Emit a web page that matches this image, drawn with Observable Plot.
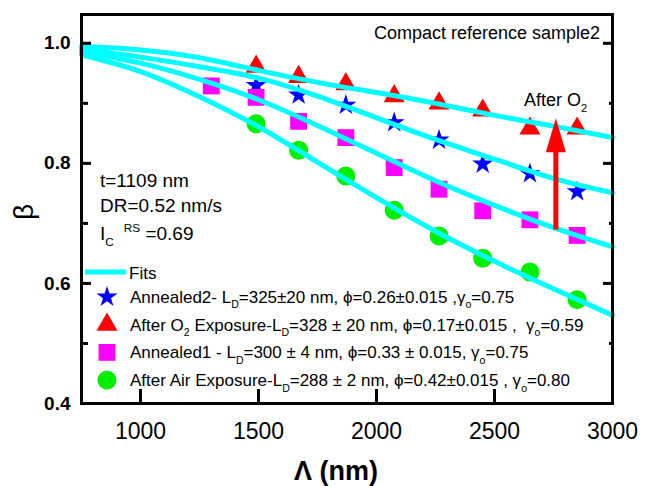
<!DOCTYPE html>
<html><head><meta charset="utf-8">
<script src="https://cdn.jsdelivr.net/npm/d3@7"></script>
<script src="https://cdn.jsdelivr.net/npm/@observablehq/plot@0.6"></script>
<style>
body{margin:0;background:#fff}
svg{font-family:Arial,"Liberation Sans",sans-serif}
</style>
</head><body><div id="chart"></div>
<script>
// ---- data ----
const lambdaPts = [1490, 1670, 1870, 2075, 2265, 2450, 2650, 2850];
const annealed2 = [0.930, 0.914, 0.897, 0.868, 0.839, 0.799, 0.783, 0.753];
const afterO2   = [0.961, 0.944, 0.932, 0.912, 0.900, 0.888, 0.858, 0.858];
const afterAir  = [0.866, 0.822, 0.779, 0.722, 0.679, 0.642, 0.619, 0.573];
const lambdaAnn1 = [1300, 1490, 1670, 1870, 2075, 2265, 2450, 2650, 2850];
const annealed1  = [0.929, 0.910, 0.870, 0.843, 0.793, 0.757, 0.721, 0.706, 0.680];

const fitLambda    = [750, 1000, 1250, 1500, 1750, 2000, 2250, 2500, 2750, 3000];
const fitO2        = [0.995, 0.989, 0.976, 0.955, 0.935, 0.918, 0.900, 0.880, 0.862, 0.843];
const fitAnnealed2 = [0.990, 0.977, 0.961, 0.942, 0.912, 0.876, 0.840, 0.807, 0.775, 0.751];
const fitAnnealed1 = [0.986, 0.967, 0.940, 0.906, 0.863, 0.817, 0.771, 0.730, 0.693, 0.661];
const fitAir       = [0.981, 0.953, 0.911, 0.861, 0.802, 0.743, 0.687, 0.637, 0.591, 0.547];

const arrowLambda = 2760, arrowFrom = 0.689, arrowTo = 0.872;

const xTickLabels = [1000, 1500, 2000, 2500, 3000];
const xTickMarks  = [1000, 1500, 2000, 2500];
const yTickLabels = [0.4, 0.6, 0.8, 1.0];
const yMinor      = [0.5, 0.7, 0.9];

const seriesStyle = [
  {name: "Annealed2", symbol: "star", color: "#0000ff", r: 6.6},
  {name: "AfterO2", symbol: "triangle", color: "#ff0000", r: 7.8},
  {name: "Annealed1", symbol: "square", color: "#ff00ff", r: 9.5},
  {name: "AfterAir", symbol: "circle", color: "#00ee00", r: 9.5}
];

// ---- tables ----
const pts = [];
lambdaPts.forEach((l, i) => pts.push({lambda: l, beta: annealed2[i], s: 0}));
lambdaPts.forEach((l, i) => pts.push({lambda: l, beta: afterO2[i], s: 1}));
lambdaAnn1.forEach((l, i) => pts.push({lambda: l, beta: annealed1[i], s: 2}));
lambdaPts.forEach((l, i) => pts.push({lambda: l, beta: afterAir[i], s: 3}));

const fits = [];
[fitO2, fitAnnealed2, fitAnnealed1, fitAir].forEach((arr, k) =>
  fitLambda.forEach((l, i) => fits.push({lambda: l, beta: arr[i], k})));

const arrowHead = {draw(ctx) { ctx.moveTo(0, -2); ctx.lineTo(10, 32); ctx.lineTo(-10, 32); ctx.closePath(); }};

const marks = [];
seriesStyle.forEach((st, s) => {
  marks.push(Plot.dot(pts.filter(d => d.s === s), {x: "lambda", y: "beta", symbol: st.symbol, r: st.r, fill: st.color, stroke: "none"}));
});
marks.push(
  Plot.line(fits, {x: "lambda", y: "beta", z: "k", stroke: "#00ffff", strokeWidth: 5, curve: "natural"}),
  Plot.ruleX([arrowLambda], {y1: arrowFrom, y2: arrowTo - 0.04, stroke: "#ff0000", strokeWidth: 5}),
  Plot.dot([arrowLambda], {x: d => d, y: arrowTo, symbol: arrowHead, fill: "#ff0000", stroke: "none"}),
  Plot.axisX({ticks: xTickMarks, tickSize: -14, tickFormat: () => "", strokeWidth: 3, label: null}),
  Plot.axisX({ticks: xTickLabels, tickSize: 0, tickPadding: 19, fontSize: 23, tickFormat: d3.format("d"), label: null}),
  Plot.axisY({ticks: yTickLabels, anchor: "left", tickSize: -10, tickFormat: () => "", strokeWidth: 3, label: null}),
  Plot.axisY({ticks: yMinor, anchor: "left", tickSize: -7, tickFormat: () => "", strokeWidth: 3, label: null}),
  Plot.axisY({ticks: yTickLabels, anchor: "left", tickSize: 0, tickPadding: 11, tickFormat: d3.format(".1f"), fontSize: 19, fontWeight: "bold", label: null}),
  Plot.axisY({ticks: yTickLabels, anchor: "right", tickSize: -10, tickFormat: () => "", strokeWidth: 3, label: null}),
  Plot.axisY({ticks: yMinor, anchor: "right", tickSize: -4, tickFormat: () => "", strokeWidth: 3, label: null}),
  Plot.frame({stroke: "black", strokeWidth: 3})
);

const svgEl = Plot.plot({
  width: 646, height: 486,
  marginLeft: 81, marginRight: 34, marginTop: 14, marginBottom: 83,
  x: {domain: [750, 3000]},
  y: {domain: [0.4, 1.048]},
  style: {fontFamily: "Arial, 'Liberation Sans', sans-serif", background: "white", color: "black"},
  marks
});
document.getElementById("chart").appendChild(svgEl);

// ---- annotations & legend ----
const svg = d3.select(svgEl);
const g = svg.append("g").attr("fill", "black");

function rich(x, y, size, segs, anchor = "start") {
  const t = g.append("text").attr("x", x).attr("y", y).attr("font-size", size).attr("text-anchor", anchor);
  let shift = 0;
  for (const s of segs) {
    const target = s.sub ? size * 0.32 : s.sup ? -size * 0.42 : 0;
    const ts = t.append("tspan").text(s.t).attr("dy", target - shift);
    if (s.dx) ts.attr("dx", s.dx);
    if (s.sub || s.sup) ts.attr("font-size", size * 0.62);
    shift = target;
  }
  return t;
}

rich(600, 39, 18, [{t: "Compact reference sample2"}], "end");
rich(524, 106, 18, [{t: "After O"}, {t: "2", sub: true}]);
rich(100, 187, 19, [{t: "t=1109 nm"}]);
rich(100, 212, 19, [{t: "DR=0.52 nm/s"}]);
rich(100, 240, 19, [{t: "I"}, {t: "C", sub: true}, {t: "RS", sup: true, dx: 10}, {t: " =0.69"}]);

// legend
g.append("line").attr("x1", 85).attr("x2", 126).attr("y1", 272).attr("y2", 272)
  .attr("stroke", "#00ffff").attr("stroke-width", 5);
rich(129, 279, 17, [{t: "Fits"}]);
const legendRows = [
  [{t: "Annealed2- L"}, {t: "D", sub: true}, {t: "=325±20 nm, ϕ=0.26±0.015 ,γ"}, {t: "o", sub: true}, {t: "=0.75"}],
  [{t: "After O"}, {t: "2", sub: true}, {t: " Exposure-L"}, {t: "D", sub: true}, {t: "=328 ± 20 nm, ϕ=0.17±0.015 ,  γ"}, {t: "o", sub: true}, {t: "=0.59"}],
  [{t: "Annealed1 - L"}, {t: "D", sub: true}, {t: "=300 ± 4 nm, ϕ=0.33 ± 0.015, γ"}, {t: "o", sub: true}, {t: "=0.75"}],
  [{t: "After Air Exposure-L"}, {t: "D", sub: true}, {t: "=288 ± 2 nm, ϕ=0.42±0.015 , γ"}, {t: "o", sub: true}, {t: "=0.80"}]
];
const symMap = {star: d3.symbolStar, triangle: d3.symbolTriangle, square: d3.symbolSquare, circle: d3.symbolCircle};
seriesStyle.forEach((st, i) => {
  const cy = 297 + i * 27.7;
  g.append("path").attr("transform", `translate(107,${cy})`)
    .attr("d", d3.symbol(symMap[st.symbol], st.r * st.r * Math.PI)())
    .attr("fill", st.color);
  rich(130, cy + 6, 17, legendRows[i]);
});

// axis titles
g.append("text").attr("x", 336).attr("y", 480).attr("text-anchor", "middle")
  .attr("font-size", 27).attr("font-weight", "bold").text("Λ (nm)");
g.append("text").attr("transform", "translate(33,212) rotate(-90)").attr("text-anchor", "middle")
  .attr("font-size", 28).text("β");
</script>
</body></html>
